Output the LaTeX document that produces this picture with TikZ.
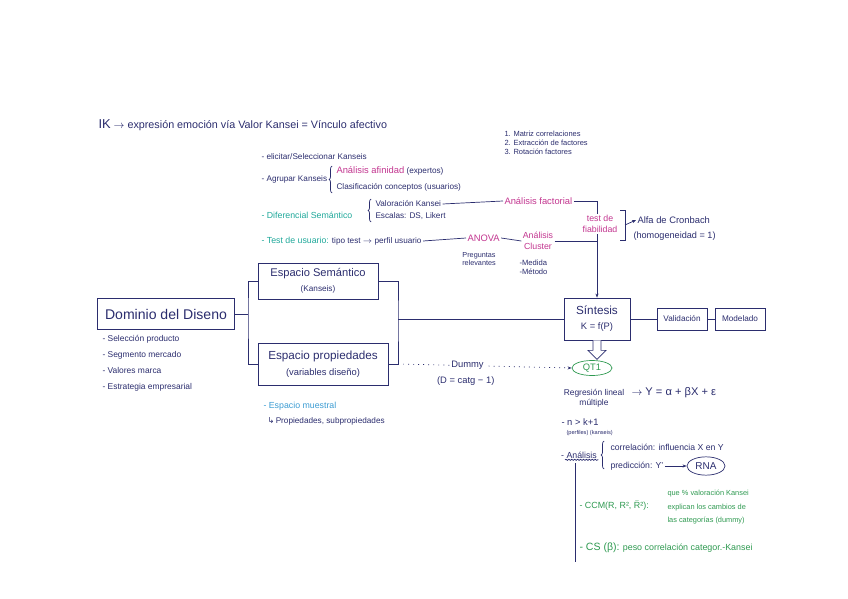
\documentclass[tikz,border=0pt]{standalone}
\usepackage{amsmath,amssymb}
\usepackage{fontspec}
\setmainfont{Liberation Sans}
\newfontfamily\symfont{DejaVu Sans}
\usetikzlibrary{positioning,arrows.meta,calc,shapes.geometric,decorations.pathreplacing,decorations.pathmorphing}
\definecolor{ink}{HTML}{2B2D6E}
\definecolor{kmag}{HTML}{C2358F}
\definecolor{kteal}{HTML}{1FA89A}
\definecolor{kgreen}{HTML}{2E9950}
\definecolor{kblue}{HTML}{3A9BD2}
\newcommand{\fs}[1]{\fontsize{#1}{1.2\dimexpr#1pt\relax}\selectfont}

\begin{document}
\begin{tikzpicture}[
  x=0.03cm, y=-0.03cm,
  color=ink,
  line width=0.6pt,
  >={Stealth[length=3.5pt]},
  note/.style={font=\fs{7}, inner sep=1pt, anchor=west, align=left},
  box/.style={draw, inner sep=2pt, align=center},
  brc/.style={decorate, decoration={brace, amplitude=2.5pt}},
  oval/.style={ellipse, draw, inner sep=0pt},
]
\useasboundingbox (0,0) rectangle (848,599);

% Title
\node[note, font=\fs{9.2}] (tit) at (97,125) {{\fs{11}IK} $\rightarrow$ expresión emoción vía Valor Kansei = Vínculo afectivo};

% Kansei tasks
\node[note] (eli) at (260,157) {- elicitar/Seleccionar Kanseis};
\node[note] (agr) at (260,179) {- Agrupar Kanseis};
\draw[brc] (332,193) -- (332,166);
\node[note] (afin) at (335,171) {{\color{kmag}\fs{8}Análisis afinidad} (expertos)};
\node[note] (clas) at (335,187) {Clasificación conceptos (usuarios)};
\node[note, text=kteal, font=\fs{7.5}] (dif) at (260,215) {- Diferencial Semántico};
\draw[brc] (371,222) -- (371,199);
\node[note] (valk) at (374,204) {Valoración Kansei};
\node[note] (esc) at (374,216) {Escalas: DS, Likert};
\node[note] (test) at (260,241) {{\color{kteal}\fs{7.5}- Test de usuario:} tipo test $\rightarrow$ perfil usuario};

% Analysis chain
\node[note, text=kmag, font=\fs{8}] (anova) at (466,238) {ANOVA};
\node[note, anchor=center, align=center, font=\fs{6.2}] (preg) at (479,259) {Preguntas\\relevantes};
\node[note, anchor=center, align=center, text=kmag, font=\fs{7.5}] (clus) at (538,241) {Análisis\\Cluster};
\node[note, anchor=north west, font=\fs{6.5}] (medi) at (518,258) {-Medida\\-Método};
\node[note, text=kmag, font=\fs{8}] (fact) at (503,201) {Análisis factorial};
\node[note, anchor=north west, font=\fs{6.4}] (pasos) at (503,130) {1. Matriz correlaciones\\2. Extracción de factores\\3. Rotación factores};
\node[note, anchor=center, align=center, text=kmag, font=\fs{7.5}] (fiab) at (600,224) {test de\\fiabilidad};
\coordinate (brk) at (625,225);
\draw (620,210) -- (625,210) -- (625,240) -- (620,240);
\node[note, font=\fs{8}] (alfa) at (636,220) {Alfa de Cronbach};
\node[note, font=\fs{7.8}] (homo) at (632,236) {(homogeneidad = 1)};

% Main blocks
\node[box, minimum width=4.1cm, minimum height=0.93cm, font=\fs{12}] (dom) at (166,314) {Dominio del Diseno};
\node[box, minimum width=3.6cm, minimum height=1.08cm] (sem) at (318,281) {{\fs{9.5}Espacio Semántico}\\[1pt]{\fs{7}(Kanseis)}};
\node[box, minimum width=3.9cm, minimum height=1.26cm] (prop) at (323,364) {{\fs{10}Espacio propiedades}\\[2pt]{\fs{8}(variables diseño)}};
\node[box, minimum width=1.98cm, minimum height=1.26cm] (sint) at (597,319) {{\fs{10}Síntesis}\\[1pt]{\fs{8}K = f(P)}};
\node[box, minimum width=1.5cm, minimum height=0.66cm, font=\fs{7}] (val) at (682,319) {Validación};
\node[box, minimum width=1.5cm, minimum height=0.66cm, font=\fs{7}] (mod) at (740,319) {Modelado};

\node[note, anchor=north west, font=\fontsize{7.2}{13.5}\selectfont] (domlist) at (101,334) {- Selección producto\\- Segmento mercado\\- Valores marca\\- Estrategia empresarial};
\node[note, text=kblue, font=\fs{7.5}] (mues) at (262,406) {- Espacio muestral};
\node[note] (subp) at (266,421) {{\symfont ↳}\,Propiedades, subpropiedades};

% Connectors
\coordinate (jl) at (248,314);
\coordinate (jr) at (398,319);
\draw (dom.east) -- (jl);
\draw (sem.west) -| (jl) |- (prop.west);
\draw (sem.east) -| (jr) |- (prop.east);
\draw (jr) -- (sint.west);
\draw (sint.east) -- (val.west);
\draw (val.east) -- (mod.west);
\draw (test.east) -- (anova.west);
\draw (anova.east) -- (clus.west);
\draw (valk.east) -- (fact.west);
\draw (fact.east) -| (fiab.north -| sint.north);
\draw (clus.east) -- (clus.east -| sint.north);
\draw[->] (fiab.south -| sint.north) -- (sint.north);
\draw[->] (brk) -- (alfa.west);

% QT1 and regression
\node[oval, draw=kgreen, text=kgreen, minimum width=1.2cm, minimum height=0.45cm, font=\fs{8}] (qt) at (592,368) {QT1};
\draw[fill=white, line join=miter] ($(sint.south)+(-4,0)$) -- ++(0,10) -- ++(-5,0)
  -- ($(sint.south)+(0,19)$) -- ($(sint.south)+(9,10)$) -- ++(-5,0) -- ($(sint.south)+(4,0)$);
\draw[->, dash pattern=on 0.8pt off 3.5pt] (jr |- prop.east) -- (qt.west)
  node[pos=0.4, fill=white, inner sep=1pt, font=\fs{8}] (dum) {Dummy}
  node[pos=0.39, below=6pt, font=\fs{8}] (dcat) {(D = catg − 1)};

\node[note, anchor=center, align=center, font=\fs{7.2}] (reg) at (594,398) {Regresión lineal\\múltiple};
\node[note, font=\fs{9.5}] (eq) at (630,393) {$\rightarrow$ Y = α + βX + ε};
\node[note, font=\fs{8}] (nk) at (560,422) {- n > k+1};
\node[note, font=\fs{4.8}] (nkp) at (565,433) {(perfiles) (kanseis)};

% Analysis branch
\node[note, font=\fs{7.5}] (ana) at (565,455) {\llap{- }Análisis};
\draw[decorate, decoration={snake, amplitude=0.5pt, segment length=2.5pt}] (ana.south west) -- (ana.south east);
\draw[brc] (604,469) -- (604,441);
\node[note, font=\fs{7.4}] (corr) at (609,447) {correlación: influencia X en Y};
\node[note, font=\fs{7.4}] (pred) at (609,466) {predicción: Y'};
\node[oval, minimum width=1.14cm, minimum height=0.55cm, font=\fs{8.5}] (rna) at (706,466) {RNA};
\draw[->] (pred.east) -- (rna.west);
\coordinate (trk) at (575,463);
\coordinate (trkend) at (575,562);
\draw (trk) -- (trkend);

\node[note, text=kgreen, font=\fs{7.6}] (ccm) at (578,506) {- CCM(R, R², $\bar{\mathrm{R}}$²):};
\node[note, anchor=north west, text=kgreen, font=\fontsize{6.3}{11.5}\selectfont] (ccmtxt) at (666,489) {que \% valoración Kansei\\explican los cambios de\\las categorías (dummy)};
\node[note, text=kgreen, font=\fs{7.6}] (cs) at (578,548) {{\fs{9}- CS (β):} peso correlación categor.-Kansei};

\end{tikzpicture}
\end{document}
